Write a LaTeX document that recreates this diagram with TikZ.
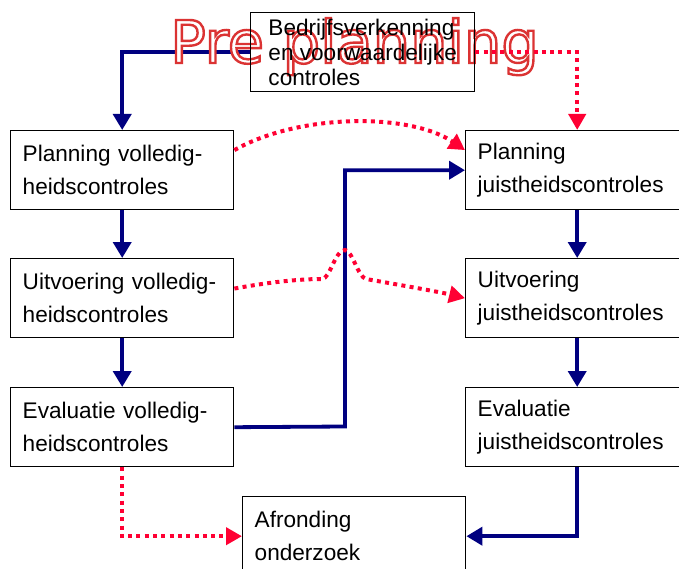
\documentclass[tikz,border=0pt]{standalone}
\usepackage{fontspec}
\setmainfont{Liberation Sans}
\newfontfamily\wafont{DejaVu Sans}
\usetikzlibrary{arrows.meta,calc}
\pgfdeclarelayer{bg}
\pgfdeclarelayer{mid}
\pgfsetlayers{bg,mid,main}
\definecolor{navy}{RGB}{0,0,128}
\definecolor{dotred}{RGB}{255,0,51}
\newcommand\outlinedtext[1]{\textcolor{white}{\special{pdf:literal direct 2 Tr 2.4 w 0.86 0.2 0.2 RG}#1\special{pdf:literal direct 0 Tr 0.4 w}}}
\tikzset{
  box/.style={draw, line width=1.4pt, anchor=north west, minimum width=223pt,
    minimum height=79pt, inner xsep=12pt, text width=199pt, align=left,
    font=\fontsize{22.6}{33}\selectfont},
  topbox/.style={draw, line width=1.4pt, anchor=north west, minimum width=224pt,
    minimum height=79pt, inner xsep=12pt, align=left,
    font=\fontsize{22.6}{25}\selectfont},
  conn/.style={line width=3.8pt, navy, -{Triangle[length=16pt,width=18pt]}},
  dotconn/.style={line width=4pt, dotred, dash pattern=on 4pt off 4.3pt,
    -{Triangle[length=16pt,width=17pt]}},
  wordart/.style={anchor=base west, inner sep=0pt, font=\wafont\fontsize{59}{59}\selectfont}
}
\begin{document}
\begin{tikzpicture}[x=1pt,y=-1pt]
\useasboundingbox (0,0) rectangle (679,569);
\node[topbox] (top) at (250,12) {Bedrijfsverkenning\\en voorwaardelijke\\controles};
\node[box] (pv) at (10,130) {Planning volledig-\\heidscontroles};
\node[box] (uv) at (10,258) {Uitvoering volledig-\\heidscontroles};
\node[box] (ev) at (10,387) {Evaluatie volledig-\\heidscontroles};
\node[box] (pj) at (465,130) {Planning\\juistheidscontroles};
\node[box] (uj) at (465,258) {Uitvoering\\juistheidscontroles};
\node[box] (ej) at (465,387) {Evaluatie\\juistheidscontroles};
\node[box] (af) at (242,496) {Afronding\\onderzoek};
\begin{pgfonlayer}{mid}
\node[wordart] (pre) at (170,63) {\outlinedtext{Pre planning}};
\end{pgfonlayer}
\begin{pgfonlayer}{bg}
\draw[conn] (top.west) -| (pv.north);
\draw[conn] (pv.south) -- (uv.north);
\draw[conn] (uv.south) -- (ev.north);
\draw[conn] (pj.south) -- (uj.north);
\draw[conn] (uj.south) -- (ej.north);
\draw[conn] (ej.south) |- (af.east);
\coordinate (j1) at (345,426.5);
\draw[conn] (ev.east) -- (j1) |- (pj.west);
\end{pgfonlayer}
\draw[dotconn] (top.east) -| (pj.north);
\draw[dotconn] (ev.south) |- (af.west);
\coordinate (s1) at ($(pv.north east)!0.25!(pv.south east)$);
\coordinate (e1) at ($(pj.north west)!0.25!(pj.south west)$);
\draw[dotconn] (s1) .. controls (300,113) and (410,113) .. (e1);
\coordinate (s2) at ($(uv.north east)!0.38!(uv.south east)$);
\draw[dotconn] (s2) .. controls (270,282) and (300,279) .. (322,279)
  .. controls (330,279) and (335,250) .. (345,250)
  .. controls (352,250) and (358,277) .. (366,279)
  .. controls (400,285) and (440,292) .. (uj.west);
\end{tikzpicture}
\end{document}
